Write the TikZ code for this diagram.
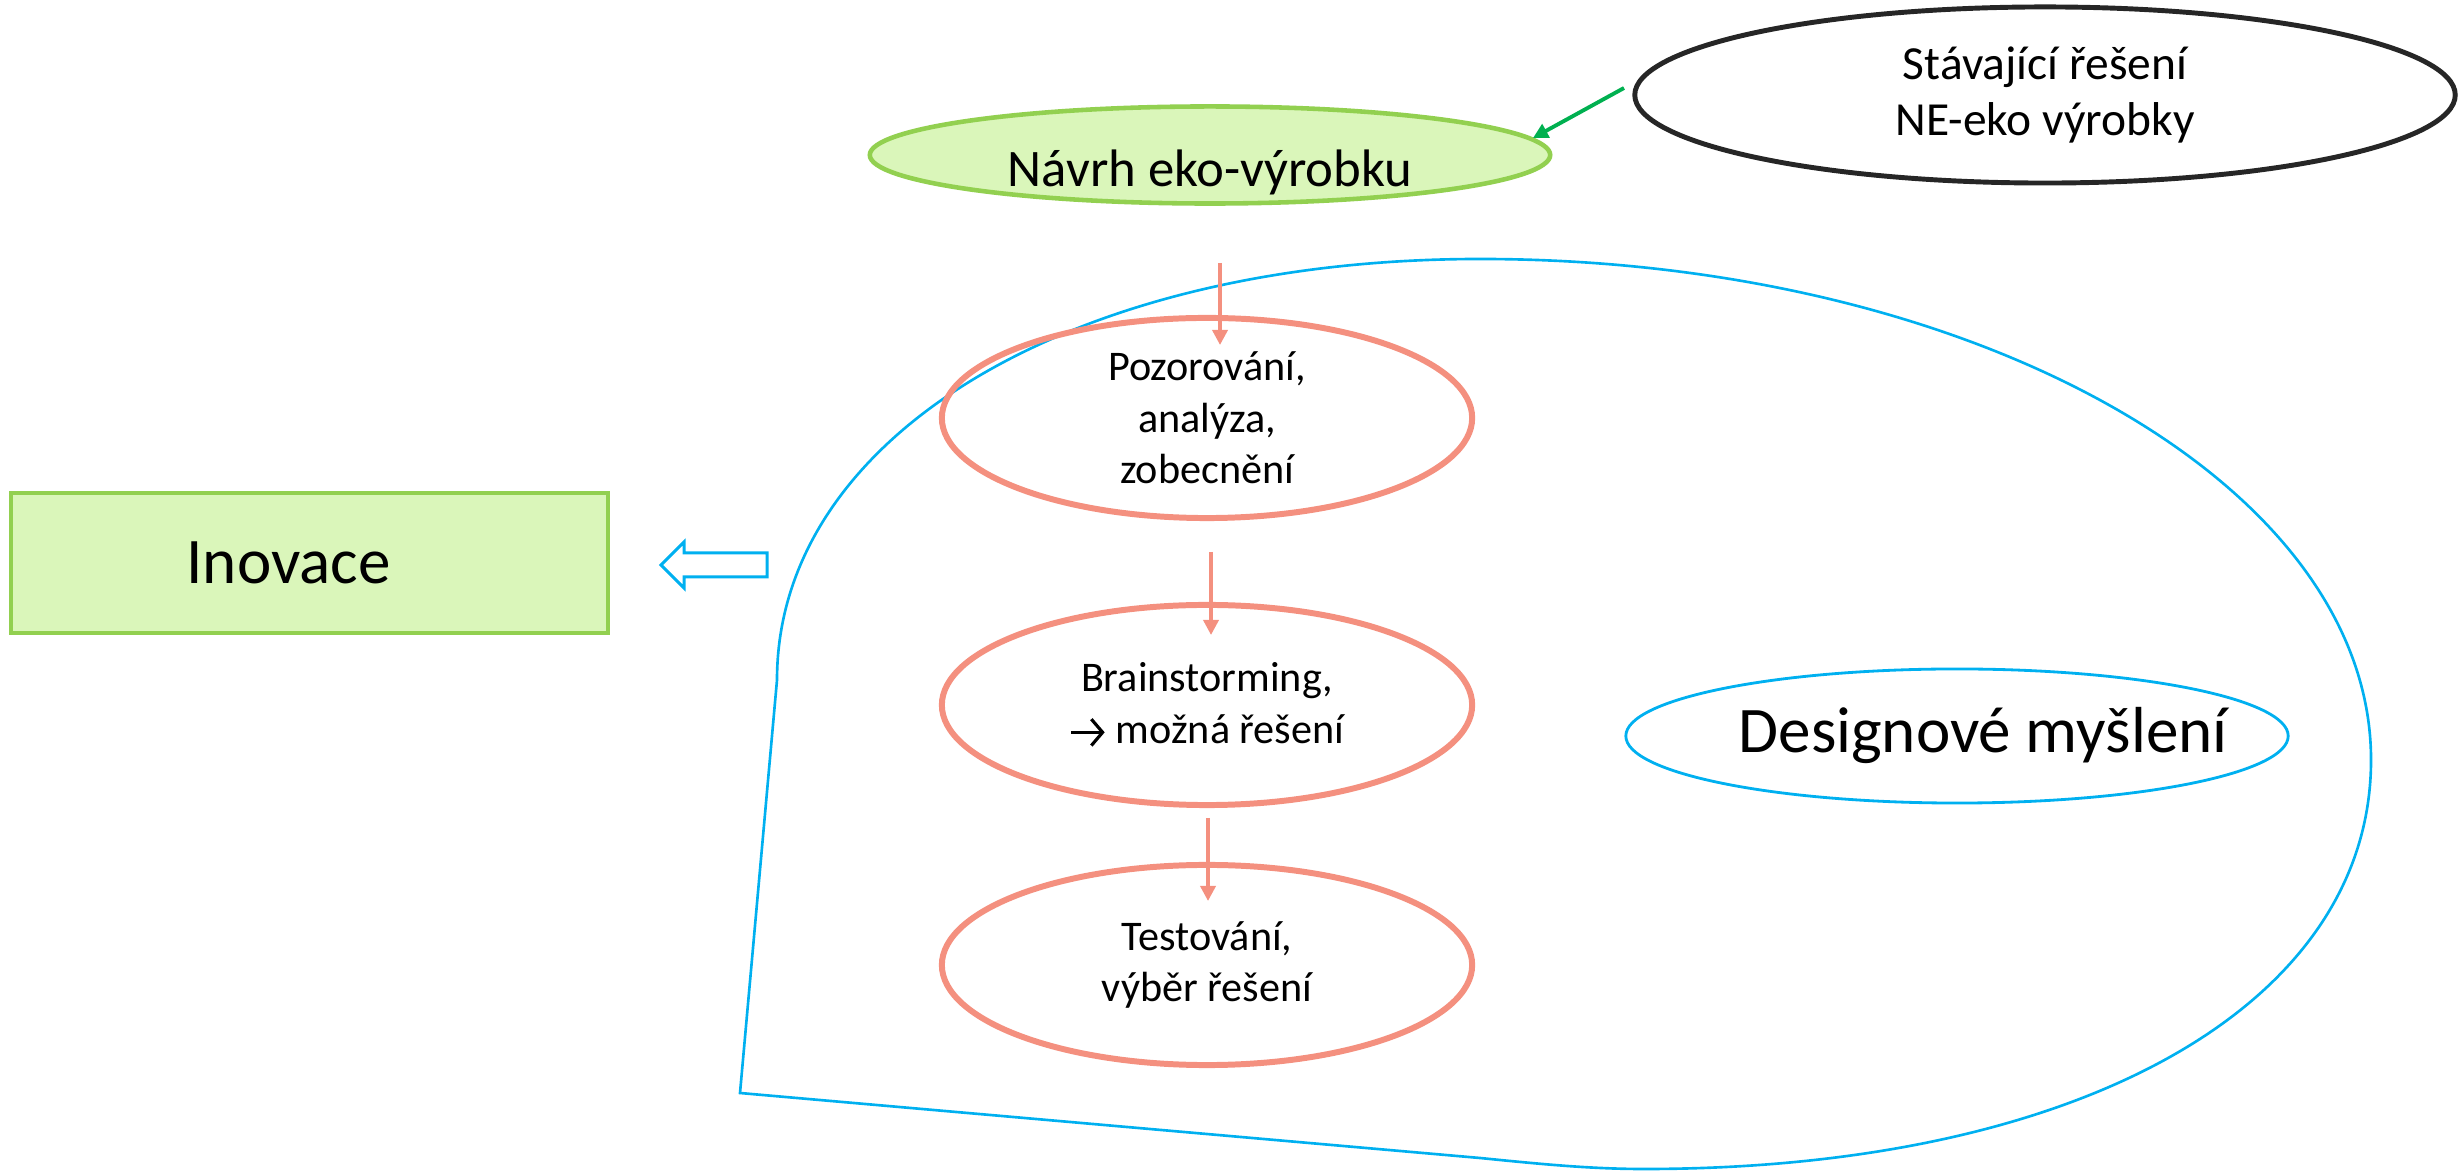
\documentclass[tikz,border=0pt]{standalone}
\usepackage{fontspec}
\setmainfont{Carlito}
\usetikzlibrary{shapes.geometric,arrows.meta}
\definecolor{lgreen}{HTML}{DAF6BA}
\definecolor{mgreen}{HTML}{92D050}
\definecolor{salmon}{HTML}{F4907F}
\definecolor{cblue}{HTML}{00B0F0}
\definecolor{dgreen}{HTML}{00B050}
\definecolor{dgray}{HTML}{262626}
\newcommand{\wingarrow}{\tikz[baseline=-3.1pt]\draw[black, line width=0.9pt, -{Straight Barb[length=3.2pt,width=7.5pt,line width=0.9pt]}] (0pt,0pt) -- (9.5pt,0pt);}
\begin{document}
\begin{tikzpicture}[x=0.01cm,y=-0.01cm,
  salm/.style={ellipse, draw=salmon, line width=1.7pt, minimum width=5.3cm, minimum height=2.0cm, inner sep=0pt, align=center, font=\fontsize{12}{14.6}\selectfont},
  sarr/.style={salmon, line width=1pt, -{Triangle[width=0.15cm,length=0.15cm]}},
  blueline/.style={cblue, line width=0.75pt},
]
\useasboundingbox (0,0) rectangle (2458,1171);

% big blue shape
\draw[blueline] (777,680) -- (740,1093) -- (1480,1158)
  .. controls (1540,1164) and (1590,1169) .. (1644,1169)
  .. controls (2080,1169) and (2371,1005) .. (2371,760)
  .. controls (2371,483) and (1972,259) .. (1480,259)
  .. controls (1072,259) and (777,436) .. (777,680) -- cycle;

% nodes
\node[ellipse, draw=dgray, line width=1.4pt, minimum width=8.2cm, minimum height=1.76cm, inner sep=0pt, align=center, font=\fontsize{13.5}{16}\selectfont] (stav) at (2045,95) {Stávající řešení\\NE-eko výrobky};
\node[ellipse, draw=mgreen, fill=lgreen, line width=1.3pt, minimum width=6.8cm, minimum height=0.97cm, inner sep=0pt, font=\fontsize{15}{18}\selectfont, text height=18.2pt, text depth=0pt] (navrh) at (1210,155) {Návrh eko-výrobku};
\node[salm] (poz) at (1207,418) {Pozorování,\\analýza,\\zobecnění};
\node[salm] (brain) at (1207,705) {Brainstorming,\\\wingarrow\ možná řešení};
\node[salm] (test) at (1207,965) {Testování,\\výběr řešení};
\node[draw=mgreen, fill=lgreen, line width=1.3pt, minimum width=5.97cm, minimum height=1.40cm, inner sep=0pt, font=\fontsize{18.5}{22}\selectfont] (inov) at (309.5,563) {Inovace\hspace*{0.42cm}};
\node[ellipse, draw=cblue, line width=0.8pt, minimum width=6.62cm, minimum height=1.34cm, inner xsep=-1.5cm, inner ysep=0pt, font=\fontsize{18.5}{22}\selectfont] (design) at (1957,736) {\hspace*{0.52cm}Designové myšlení};

% hollow arrow
\draw[cblue, line width=0.85pt, fill=white] (661,565) -- (684,542) -- (684,553) -- (767,553) -- (767,577) -- (684,577) -- (684,588) -- cycle;

% connectors
\coordinate (gs) at (1624,88);
\draw[dgreen, line width=1.1pt, -{Triangle[width=0.15cm,length=0.15cm]}] (gs) -- (navrh.3);
\coordinate (a1s) at (1220,263);
\coordinate (a1e) at (1220,345);
\coordinate (a2s) at (1211,552);
\coordinate (a2e) at (1211,635);
\coordinate (a3s) at (1208,818);
\coordinate (a3e) at (1208,901);
\draw[sarr] (a1s) -- (a1e);
\draw[sarr] (a2s) -- (a2e);
\draw[sarr] (a3s) -- (a3e);
\end{tikzpicture}
\end{document}
